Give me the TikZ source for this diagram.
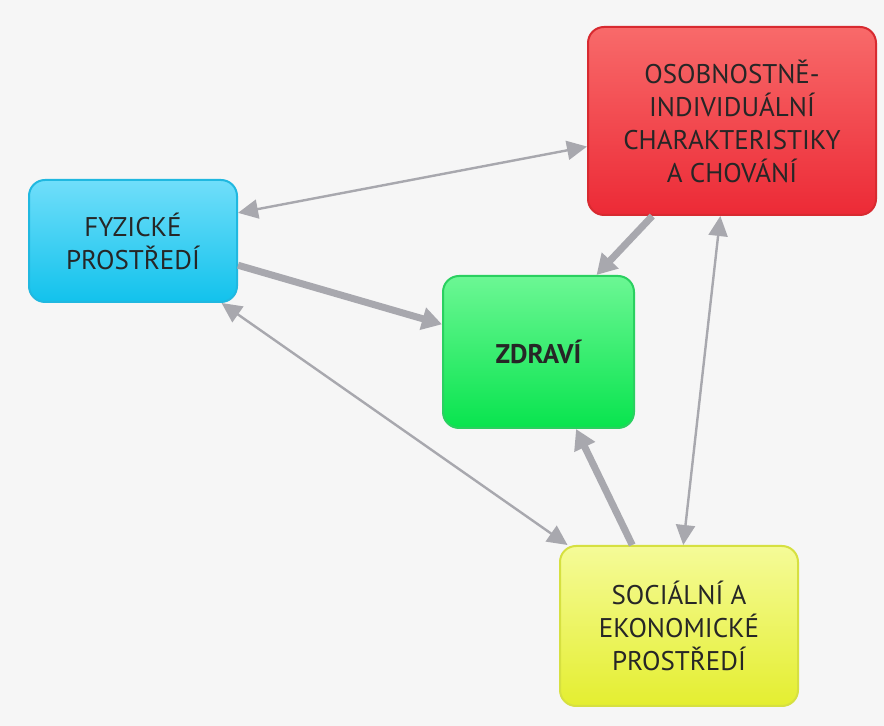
\documentclass[tikz,border=0pt]{standalone}
\usepackage{fontspec}
\setmainfont{PT Sans}
\usetikzlibrary{arrows.meta}
\definecolor{arrowgray}{HTML}{A8A8AE}
\definecolor{redtop}{HTML}{F86A6A}
\definecolor{redbot}{HTML}{EC2A36}
\definecolor{redline}{HTML}{D82A30}
\definecolor{cyantop}{HTML}{70DEFA}
\definecolor{cyanbot}{HTML}{12C2EC}
\definecolor{cyanline}{HTML}{20B8E0}
\definecolor{greentop}{HTML}{6CF794}
\definecolor{greenbot}{HTML}{08E44E}
\definecolor{greenline}{HTML}{2AD060}
\definecolor{yellowtop}{HTML}{F5FB98}
\definecolor{yellowbot}{HTML}{E4EE30}
\definecolor{yellowline}{HTML}{D6E040}

\begin{document}
\begin{tikzpicture}[
                x=0.5pt,y=-0.5pt,
                box/.style n args={5}{draw=#1,line width=1pt,rounded corners=8pt,top color=#2,bottom color=#3,minimum width=#4,minimum height=#5,align=center,text=black!85,font=\fontsize{13.5}{16.5}\selectfont},
                twoway/.style={arrowgray,line width=1.2pt,{Triangle[width=9.5pt,length=10pt]}-{Triangle[width=9.5pt,length=10pt]}},
                oneway/.style={arrowgray,line width=3.5pt,-{Triangle[width=11pt,length=10pt]}}
            ]
                \fill[gray!7] (0,0) rectangle (884,726);
                \node (osob) [box={redline}{redtop}{redbot}{144pt}{94pt}] at (732,121) {OSOBNOSTNĚ-\\INDIVIDUÁLNÍ\\CHARAKTERISTIKY\\A CHOVÁNÍ};
                \node (fyz) [box={cyanline}{cyantop}{cyanbot}{104pt}{61pt}] at (133,241) {FYZICKÉ\\PROSTŘEDÍ};
                \node (zdr) [box={greenline}{greentop}{greenbot}{95.5pt}{76pt},font=\fontsize{13.5}{16.5}\selectfont\bfseries] at (538.5,352) {ZDRAVÍ};
                \node (soc) [box={yellowline}{yellowtop}{yellowbot}{119pt}{80pt}] at (679,626) {SOCIÁLNÍ A\\EKONOMICKÉ\\PROSTŘEDÍ};
                \draw [twoway] (fyz.15) -- (osob.190);
                \draw [twoway] (fyz.-35) -- (soc.144);
                \draw [twoway] (osob.263) -- (soc.87);
                \draw [oneway] (fyz.-13) -- (zdr.164);
                \draw [oneway] (osob.230) -- (zdr.53);
                \draw [oneway] (soc.120) -- (zdr.-64);
            \end{tikzpicture}
\end{document}
